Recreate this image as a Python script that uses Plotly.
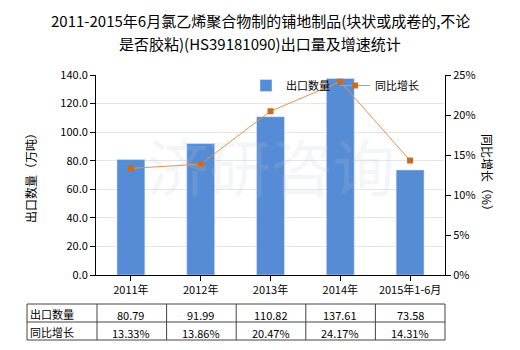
import plotly.graph_objects as go

categories = ["2011年", "2012年", "2013年", "2014年", "2015年1-6月"]
export_qty = [80.79, 91.99, 110.82, 137.61, 73.58]
growth_pct = [13.33, 13.86, 20.47, 24.17, 14.31]
row_labels = ["出口数量", "同比增长"]
title_lines = ["2011-2015年6月氯乙烯聚合物制的铺地制品(块状或成卷的,不论",
               "是否胶粘)(HS39181090)出口量及增速统计"]

FONT = "Noto Sans CJK SC, Microsoft YaHei, sans-serif"
W, H = 520, 350
L, R, T, B = 96, 75, 75, 75
pw = W - L - R
ph = H - T - B

fig = go.Figure()
fig.add_trace(go.Bar(
    x=categories, y=export_qty, name="出口数量",
    marker=dict(color="#568cd5"), width=0.4, yaxis="y"))
fig.add_trace(go.Scatter(
    x=categories, y=growth_pct, name="同比增长", yaxis="y2",
    mode="lines+markers",
    line=dict(color="#e8904f", width=1),
    marker=dict(symbol="square", size=6, color="#cc6a1e")))

def px_x(p):
    return (p - L) / pw

def px_y(p):
    return (H - B - p) / ph

annotations = []
# title
for i, line in enumerate(title_lines):
    annotations.append(dict(text=line, x=px_x(260), y=px_y(20 + 23 * i), xref="paper", yref="paper",
                            xanchor="center", yanchor="middle", showarrow=False,
                            font=dict(size=15, color="#000", family=FONT)))
# watermark
annotations.append(dict(text="济研咨询", x=0.5, y=0.55, xref="paper", yref="paper",
                        xanchor="center", yanchor="middle", showarrow=False,
                        font=dict(size=62, color="rgba(190,200,210,0.18)", family=FONT)))
# axis titles
annotations.append(dict(text="出口数量（万吨）", x=px_x(30), y=0.5, xref="paper", yref="paper",
                        xanchor="center", yanchor="middle",
                        showarrow=False, textangle=-90, font=dict(size=12, color="#000", family=FONT)))
annotations.append(dict(text="同比增长（%）", x=px_x(488), y=0.5, xref="paper", yref="paper",
                        xanchor="center", yanchor="middle",
                        showarrow=False, textangle=90, font=dict(size=12, color="#000", family=FONT)))

# table
row_tops = [304, 322, 340]
col_edges = [27, 97] + [97 + 69.6 * (i + 1) for i in range(len(categories))]
shapes = []
for yy in row_tops:
    shapes.append(dict(type="line", xref="paper", yref="paper", x0=px_x(27), x1=px_x(445),
                       y0=px_y(yy), y1=px_y(yy), line=dict(color="#444", width=1)))
for xx in col_edges:
    shapes.append(dict(type="line", xref="paper", yref="paper", x0=px_x(xx), x1=px_x(xx),
                       y0=px_y(304), y1=px_y(340), line=dict(color="#444", width=1)))

rows = [[f"{v:.2f}" for v in export_qty], [f"{v:.2f}%" for v in growth_pct]]
for r, (lab, vals) in enumerate(zip(row_labels, rows)):
    yc = px_y((row_tops[r] + row_tops[r + 1]) / 2)
    annotations.append(dict(text=lab, x=px_x(28), y=yc - 0.005, xref="paper", yref="paper",
                            xanchor="left", yanchor="middle", showarrow=False,
                            font=dict(size=11, color="#000", family=FONT)))
    for c, v in enumerate(vals):
        annotations.append(dict(text=v, x=categories[c], y=yc - 0.01, xref="x", yref="paper",
                                xanchor="center", yanchor="middle", showarrow=False,
                                font=dict(size=11, color="#000", family=FONT)))

fig.update_layout(
    width=W, height=H,
    margin=dict(l=L, r=R, t=T, b=B),
    paper_bgcolor="white", plot_bgcolor="white",
    font=dict(family=FONT, size=11, color="#000"),
    bargap=0.6,
    showlegend=True,
    legend=dict(orientation="h", x=px_x(246), y=px_y(71), xanchor="left", yanchor="top",
                bgcolor="rgba(0,0,0,0)", font=dict(size=11, family=FONT),
                itemwidth=30, tracegroupgap=0),
    xaxis=dict(type="category", showline=True, linecolor="#000", linewidth=1,
               ticks="outside", ticklen=5, tickcolor="#000", showgrid=False,
               tickfont=dict(size=11), fixedrange=True),
    yaxis=dict(range=[0, 140], dtick=20, tickformat=".1f", showline=True, linecolor="#000",
               linewidth=1, ticks="outside", ticklen=5, tickcolor="#000",
               showgrid=True, gridcolor="#e6e6e6", gridwidth=1, zeroline=False,
               tickfont=dict(size=11)),
    yaxis2=dict(range=[0, 25], dtick=5, ticksuffix="%", overlaying="y", side="right",
                showline=True, linecolor="#000", linewidth=1, ticks="outside", ticklen=5,
                tickcolor="#000", showgrid=False, zeroline=False, tickfont=dict(size=11)),
    annotations=annotations,
    shapes=shapes,
)

fig.write_html("out.html")
